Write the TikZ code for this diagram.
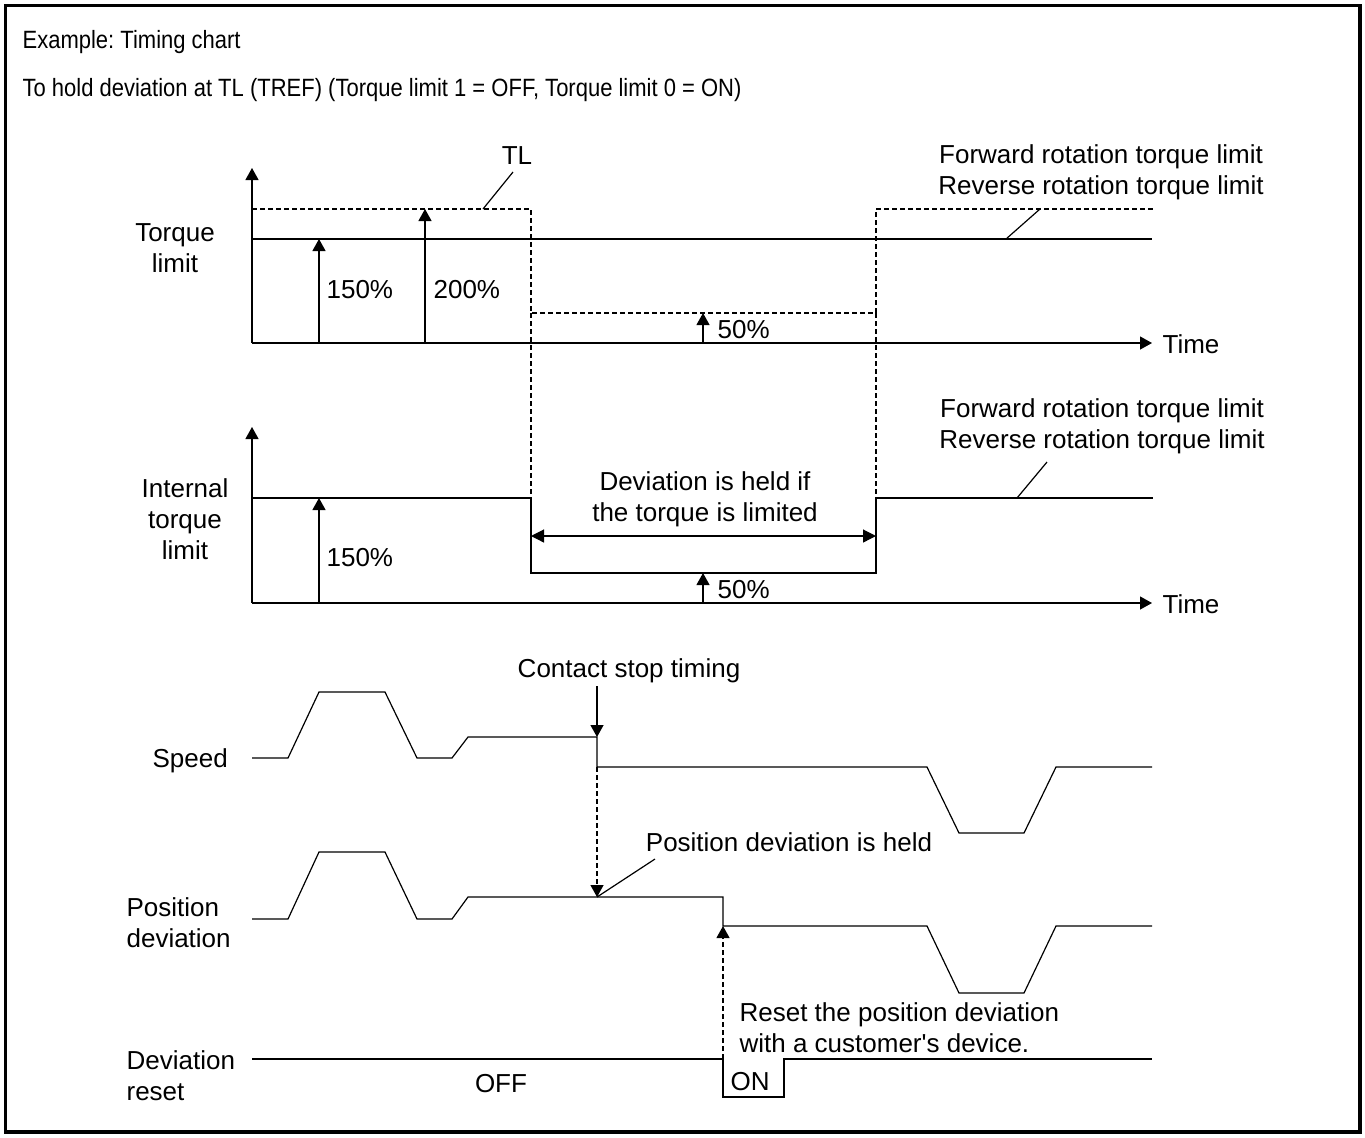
\documentclass[tikz,border=0pt]{standalone}
\usepackage{fontspec}
\setmainfont{Liberation Sans}[Ligatures=TeXOff]
\newfontfamily\titlefont[FakeStretch=0.88,Ligatures=TeXOff]{Liberation Sans}
\usetikzlibrary{arrows.meta}
\frenchspacing
\begin{document}
\begin{tikzpicture}[x=0.5pt,y=-0.5pt,line width=0.6pt,
  lbl/.style={inner sep=0pt,font=\fontsize{13pt}{15.5pt}\selectfont},
  ttl/.style={inner sep=0pt,anchor=base west,font=\titlefont\fontsize{12.5pt}{15pt}\selectfont},
  tipped/.style={-{Triangle[length=6pt,width=6.5pt]}},
  both/.style={{Triangle[length=6.5pt,width=6.5pt]}-{Triangle[length=6.5pt,width=6.5pt]}},
  dsh/.style={dash pattern=on 2.5pt off 1.5pt},
  wave/.style={line width=0.6pt,line join=miter}]
\useasboundingbox (0,0) rectangle (1365,1137);
\draw[line width=1.6pt] (5.5,5.5) rectangle (1360,1132);

% titles
\node[ttl] (t1) at (22,48) {Example: Timing chart};
\node[ttl] (t2) at (22,96) {To hold deviation at TL (TREF) (Torque limit 1 = OFF, Torque limit 0 = ON)};

% ---------- Torque limit ----------
\coordinate (o1) at (252,343);
\coordinate (y1) at (252,168);
\coordinate (x1) at (1152,343);
\draw[tipped] (o1) -- (y1);
\draw[tipped] (o1) -- (x1);
\node[lbl,anchor=west] (time1) at (1162,344) {Time};
\node[lbl,align=center] (tl1) at (175,248) {Torque\\limit};
% solid 150% line
\coordinate (s1a) at (252,239);
\coordinate (s1b) at (1152,239);
\draw (s1a) -- (s1b);
% dashed TL
\coordinate (d1) at (252,209);
\coordinate (d2) at (531,209);
\coordinate (d3) at (531,313);
\coordinate (d4) at (876,313);
\coordinate (d5) at (876,209);
\coordinate (d6) at (1154,209);
\draw[dsh] (d1) -- (d2) -- (d3) -- (d4) -- (d5) -- (d6);
\coordinate (d3b) at (531,498);
\coordinate (d4b) at (876,498);
\draw[dsh] (d3) -- (d3b);
\draw[dsh] (d4) -- (d4b);
% value arrows
\coordinate (a150b) at (319,343); \coordinate (a150t) at (319,239);
\coordinate (a200b) at (425,343); \coordinate (a200t) at (425,209);
\coordinate (a50b) at (703,343);  \coordinate (a50t) at (703,313);
\draw[tipped] (a150b) -- (a150t);
\draw[tipped] (a200b) -- (a200t);
\draw[tipped] (a50b) -- (a50t);
\node[lbl,anchor=base west] (p150a) at (326,298) {150\%};
\node[lbl,anchor=base west] (p200a) at (433,298) {200\%};
\node[lbl,anchor=base west] (p50a) at (717,338) {50\%};
% TL label and leader
\node[lbl,anchor=base] (tlab) at (517,164) {TL};
\coordinate (tlq1) at (513,172);
\coordinate (tlq2) at (483,209);
\draw (tlq1) -- (tlq2);
% forward/reverse
\node[lbl,align=center] (fr1) at (1101,172) {Forward rotation torque limit\\Reverse rotation torque limit};
\coordinate (fr1a) at (1040,209);
\coordinate (fr1b) at (1006,239);
\draw (fr1a) -- (fr1b);

% ---------- Internal torque limit ----------
\coordinate (o2) at (252,603);
\coordinate (y2) at (252,427);
\coordinate (x2) at (1152,603);
\draw[tipped] (o2) -- (y2);
\draw[tipped] (o2) -- (x2);
\node[lbl,anchor=west] (time2) at (1162,604) {Time};
\node[lbl,align=center] (itl) at (185,519) {Internal\\torque\\limit};
\coordinate (i1) at (252,498);
\coordinate (i2) at (531,498);
\coordinate (i3) at (531,573);
\coordinate (i4) at (876,573);
\coordinate (i5) at (876,498);
\coordinate (i6) at (1153,498);
\draw[wave] (i1) -- (i2) -- (i3) -- (i4) -- (i5) -- (i6);
\coordinate (h1) at (531,536);
\coordinate (h2) at (876,536);
\draw[both] (h1) -- (h2);
\node[lbl,align=center] (held) at (705,499) {Deviation is held if\\the torque is limited};
\coordinate (b150b) at (319,603); \coordinate (b150t) at (319,498);
\coordinate (b50b) at (703,603);  \coordinate (b50t) at (703,573);
\draw[tipped] (b150b) -- (b150t);
\draw[tipped] (b50b) -- (b50t);
\node[lbl,anchor=base west] (p150b) at (326,566) {150\%};
\node[lbl,anchor=base west] (p50b) at (717,598) {50\%};
\node[lbl,align=center] (fr2) at (1102,426) {Forward rotation torque limit\\Reverse rotation torque limit};
\coordinate (fr2a) at (1047,462);
\coordinate (fr2b) at (1017,498);
\draw (fr2a) -- (fr2b);

% ---------- Speed ----------
\node[lbl,anchor=base west] (spd) at (152,767) {Speed};
\draw[wave] (252,758) -- (288,758) -- (319,692) -- (385,692) -- (417,758) -- (452,758)
  -- (468,737) -- (597,737) coordinate (cs) -- (597,767) coordinate (cs2) -- (927,767) -- (959,833) -- (1024,833)
  -- (1056,767) -- (1152,767);
\node[lbl,anchor=base] (cst) at (629,677) {Contact stop timing};
\coordinate (csa) at (597,686);
\draw[tipped] (csa) -- (cs);

% ---------- Position deviation ----------
\node[lbl,anchor=west,align=left] (pdl) at (126,923) {Position\\deviation};
\draw[wave] (252,919) -- (288,919) -- (319,852) -- (385,852) -- (417,919) -- (452,919)
  -- (468,897) -- (597,897) coordinate (ph) -- (723,897) -- (723,926) coordinate (pr) -- (927,926) -- (959,993) -- (1024,993)
  -- (1056,926) -- (1152,926);
\draw[dsh,tipped] (cs2) -- (ph);
\node[lbl,anchor=base] (pdh) at (789,851) {Position deviation is held};
\coordinate (pdhq) at (655,859);
\draw (pdhq) -- (ph);

% ---------- Deviation reset ----------
\node[lbl,anchor=west,align=left] (drl) at (126,1076) {Deviation\\reset};
\draw[wave] (252,1059) -- (723,1059) coordinate (rs) -- (723,1097) -- (784,1097) -- (784,1059) -- (1152,1059);
\draw[dsh,tipped] (rs) -- (pr);
\node[lbl,anchor=base] (off) at (501,1092) {OFF};
\node[lbl,anchor=base west] (on) at (730,1090) {ON};
\node[lbl,anchor=west,align=left] (rst) at (739,1028) {Reset the position deviation\\with a customer's device.};
\end{tikzpicture}
\end{document}
